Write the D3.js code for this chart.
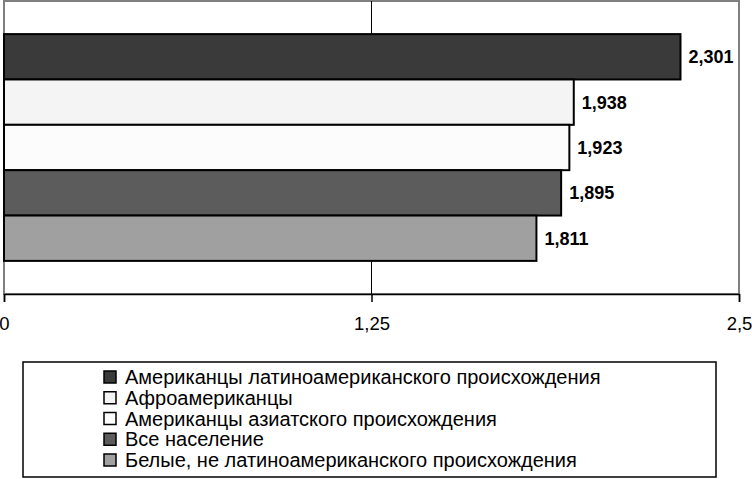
<!DOCTYPE html>
<html>
<head>
<meta charset="utf-8">
<script src="https://cdn.jsdelivr.net/npm/d3@7"></script>
<style>
  body { margin: 0; background: #fff; }
  svg text { font-family: Arial, "Liberation Sans", sans-serif; }
</style>
</head>
<body>
<div id="chart"></div>
<script>
// data
var seriesNames = [
  "Американцы латиноамериканского происхождения",
  "Афроамериканцы",
  "Американцы азиатского происхождения",
  "Все население",
  "Белые, не латиноамериканского происхождения"
];
var seriesValues = [2.301, 1.938, 1.923, 1.895, 1.811];
var seriesColors = ["#3a3a3a", "#f4f4f4", "#fcfcfc", "#5c5c5c", "#a0a0a0"];
var tickValues = [0, 1.25, 2.5];

var svgWidth = 752;
var svgHeight = 479;

var plot = { left: 4, right: 739, top: 1, bottom: 294 };

var svg = d3.select("#chart")
  .append("svg")
  .attr("width", svgWidth)
  .attr("height", svgHeight);

// russian number format: comma as decimal separator
var ru = d3.formatLocale({ decimal: ",", thousands: " ", grouping: [3], currency: ["", ""] });

var xScale = d3.scaleLinear()
  .domain([0, 2.5])
  .range([plot.left, plot.right]);

var yScale = d3.scaleBand()
  .domain(seriesNames)
  .range([plot.top, plot.bottom])
  .paddingInner(0)
  .paddingOuter(0.73);

// plot area frame (gray)
svg.append("rect")
  .attr("x", plot.left)
  .attr("y", plot.top)
  .attr("width", plot.right - plot.left)
  .attr("height", plot.bottom - plot.top)
  .attr("fill", "#fff")
  .attr("stroke", "#808080")
  .attr("stroke-width", 2);

// gridlines
svg.selectAll(".grid")
  .data(tickValues.slice(1, -1))
  .enter()
  .append("line")
  .attr("x1", d => xScale(d))
  .attr("x2", d => xScale(d))
  .attr("y1", plot.top)
  .attr("y2", plot.bottom)
  .attr("stroke", "#000")
  .attr("stroke-width", 1);

// bars
svg.selectAll(".bar")
  .data(seriesValues)
  .enter()
  .append("rect")
  .attr("x", xScale(0))
  .attr("y", (d, i) => yScale(seriesNames[i]))
  .attr("width", d => xScale(d) - xScale(0))
  .attr("height", yScale.bandwidth())
  .attr("fill", (d, i) => seriesColors[i])
  .attr("stroke", "#000")
  .attr("stroke-width", 2);

// value labels
svg.selectAll(".val")
  .data(seriesValues)
  .enter()
  .append("text")
  .attr("x", d => xScale(d) + 8)
  .attr("y", (d, i) => yScale(seriesNames[i]) + yScale.bandwidth() / 2)
  .attr("dy", "0.36em")
  .style("font-size", "18px")
  .style("font-weight", "bold")
  .text(d => ru.format(".3f")(d));

// x axis
var bottomAxis = d3.axisBottom(xScale)
  .tickValues(tickValues)
  .tickSize(8)
  .tickPadding(15)
  .tickFormat(ru.format("~g"));

var xAxis = svg.append("g")
  .attr("transform", `translate(0, ${plot.bottom})`)
  .call(bottomAxis);

xAxis.select(".domain").attr("stroke", "#000").attr("stroke-width", 1.5);
xAxis.selectAll(".tick line").attr("stroke", "#000").attr("stroke-width", 1.5);
xAxis.selectAll(".tick text")
  .style("font-size", "18.5px")
  .style("font-family", "Arial, 'Liberation Sans', sans-serif")
  .attr("fill", "#000");

// legend
var legend = svg.append("g");

legend.append("rect")
  .attr("x", 23)
  .attr("y", 362)
  .attr("width", 693)
  .attr("height", 115)
  .attr("fill", "#fff")
  .attr("stroke", "#000")
  .attr("stroke-width", 1.5);

var legendRow = d3.scalePoint()
  .domain(seriesNames)
  .range([377, 460]);

var items = legend.selectAll(".item")
  .data(seriesNames)
  .enter()
  .append("g")
  .attr("transform", d => `translate(103, ${legendRow(d)})`);

items.append("rect")
  .attr("x", 1)
  .attr("y", -6)
  .attr("width", 12)
  .attr("height", 12)
  .attr("fill", (d, i) => seriesColors[i])
  .attr("stroke", "#000")
  .attr("stroke-width", 1.5);

items.append("text")
  .attr("x", 22)
  .attr("dy", "0.36em")
  .style("font-size", "20px")
  .text(d => d);
</script>
</body>
</html>
